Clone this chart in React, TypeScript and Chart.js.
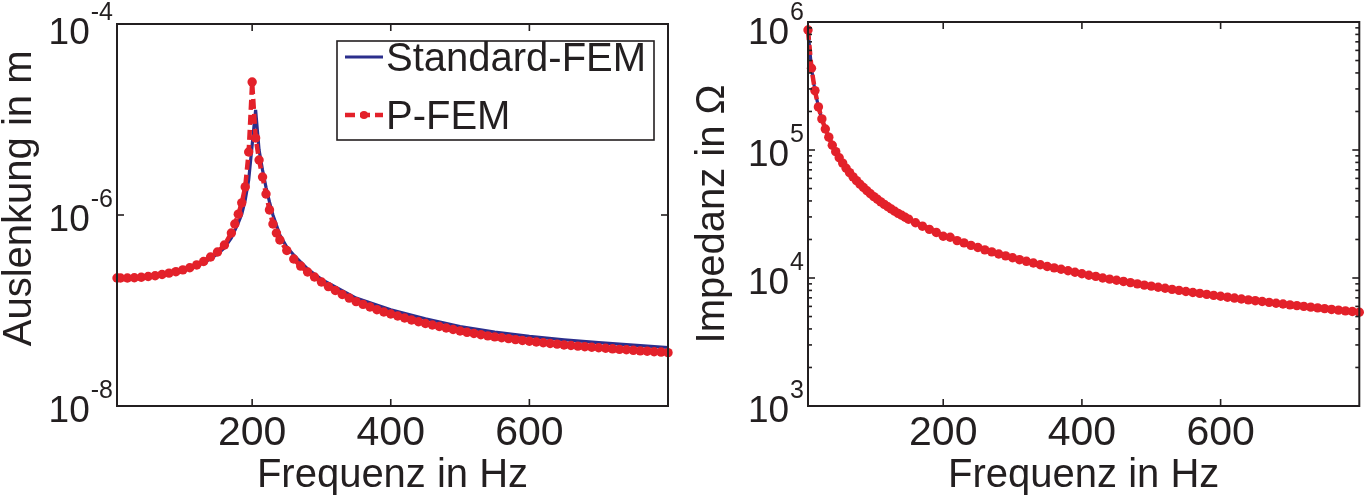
import React, { useEffect, useRef } from "react";
import { Chart, registerables } from "chart.js";

Chart.register(...registerables);

const FONT = "'Liberation Sans', Arial, Helvetica, sans-serif";
const INK = "#231f20";
const NAVY = "#2b2e8c";
const RED = "#e3212a";

// ---------- texts & ticks ----------
const seriesLabels = ["Standard-FEM", "P-FEM"];
const xTitle = "Frequenz in Hz";
const leftYTitle = "Auslenkung in m";
const rightYTitle = "Impedanz in \u03A9";
const xTickValues = [200, 400, 600];
const leftYTicks = [1e-8, 1e-6, 1e-4];
const rightYTicks = [1e3, 1e4, 1e5, 1e6];
const rightYMinorTicks = [
  2e3, 3e3, 4e3, 5e3, 6e3, 7e3, 8e3, 9e3,
  2e4, 3e4, 4e4, 5e4, 6e4, 7e4, 8e4, 9e4,
  2e5, 3e5, 4e5, 5e5, 6e5, 7e5, 8e5, 9e5,
];

// ---------- left panel: displacement (m) ----------
const pfemFreqLeft = [
  5, 10, 20, 30, 40, 50, 60, 70, 80, 90, 100, 110, 120, 130, 140, 150, 160, 170, 175, 180,
  185, 190, 195, 200, 205, 210, 215, 220, 225, 230, 235, 240, 250, 260, 270, 280, 290, 300,
  310, 320, 330, 340, 350, 360, 370, 380, 390, 400, 410, 420, 430, 440, 450, 460, 470, 480,
  490, 500, 510, 520, 530, 540, 550, 560, 570, 580, 590, 600, 610, 620, 630, 640, 650, 660,
  670, 680, 690, 700, 710, 720, 730, 740, 750, 760, 770, 780, 790, 800,
];
const pfemDispLeft = [
  2.19e-7, 2.19e-7, 2.19e-7, 2.2e-7, 2.23e-7, 2.27e-7, 2.31e-7, 2.38e-7, 2.46e-7, 2.55e-7,
  2.66e-7, 2.8e-7, 3.0e-7, 3.26e-7, 3.63e-7, 4.1e-7, 4.85e-7, 6.48e-7, 8.05e-7, 1.02e-6,
  1.34e-6, 1.97e-6, 4.57e-6, 2.47e-5, 6.4e-6, 3.77e-6, 2.5e-6, 1.66e-6, 1.13e-6, 8.05e-7,
  6.48e-7, 5.47e-7, 4.25e-7, 3.46e-7, 2.92e-7, 2.53e-7, 2.24e-7, 1.99e-7,
  1.78e-7, 1.62e-7, 1.47e-7, 1.35e-7, 1.24e-7, 1.16e-7, 1.09e-7, 1.02e-7, 9.65e-8, 9.19e-8,
  8.76e-8, 8.35e-8, 7.95e-8, 7.62e-8, 7.31e-8, 7.05e-8, 6.8e-8, 6.56e-8,
  6.32e-8, 6.1e-8, 5.91e-8, 5.74e-8, 5.58e-8, 5.43e-8, 5.3e-8, 5.18e-8, 5.07e-8, 4.96e-8,
  4.85e-8, 4.76e-8, 4.68e-8, 4.59e-8, 4.51e-8, 4.44e-8, 4.36e-8, 4.3e-8,
  4.24e-8, 4.18e-8, 4.12e-8, 4.07e-8, 4.02e-8, 3.97e-8, 3.92e-8, 3.88e-8, 3.83e-8, 3.78e-8,
  3.75e-8, 3.7e-8, 3.67e-8, 3.62e-8,
];
const stdFreqLeft = [
  5, 50, 100, 130, 150, 160, 170, 180, 185, 190, 195, 200, 205, 210, 215, 220, 225, 230,
  240, 250, 260, 280, 300, 350, 400, 450, 500, 550, 600, 650, 700, 750, 800,
];
const stdDispLeft = [
  2.19e-7, 2.27e-7, 2.61e-7, 3.14e-7, 3.9e-7, 4.51e-7, 5.74e-7, 8.25e-7, 1.02e-6, 1.44e-6,
  2.33e-6, 5.41e-6, 1.26e-5, 4.79e-6, 2.95e-6, 1.95e-6, 1.37e-6, 1.0e-6,
  6.17e-7, 4.62e-7, 3.81e-7, 2.72e-7, 2.12e-7, 1.35e-7, 1.015e-7, 8.2e-8, 6.8e-8, 5.95e-8,
  5.37e-8, 4.94e-8, 4.6e-8, 4.33e-8, 4.1e-8,
];

// ---------- right panel: impedance (Ohm) ----------
const pfemFreqRight = [
  5, 10, 15, 20, 25, 30, 35, 40, 45, 50, 55, 60, 65, 70, 75, 80, 85, 90, 95, 100, 105, 110,
  115, 120, 125, 130, 135, 140, 145, 150, 160, 170, 180, 190, 200, 210, 220, 230, 240, 250,
  260, 270, 280, 290, 300, 310, 320, 330, 340, 350, 360, 370, 380, 390, 400, 410, 420, 430,
  440, 450, 460, 470, 480, 490, 500, 510, 520, 530, 540, 550, 560, 570, 580, 590, 600, 610,
  620, 630, 640, 650, 660, 670, 680, 690, 700, 710, 720, 730, 740, 750, 760, 770, 780, 790, 800,
];
const pfemImpRight = [
  866000, 435000, 291000, 217000, 175000, 146000, 126000, 109000, 97000, 87000, 79000, 72000,
  66500, 61700, 57600, 54000, 50900, 48000, 45500, 43200, 41200, 39300,
  37600, 36000, 34600, 33200, 32000, 30900, 29800, 28800, 27000, 25400, 24000, 22700, 21200,
  20800, 19600, 18800, 18000, 17300,
  16600, 16000, 15400, 14900, 14400, 13900, 13500, 13100, 12700, 12300, 12000, 11700, 11400,
  11100, 10800, 10500, 10300, 10000,
  9800, 9600, 9400, 9200, 9000, 8800, 8640, 8470, 8310, 8150, 8000, 7850, 7710, 7580, 7450,
  7320, 7200, 7080,
  6970, 6860, 6750, 6650, 6550, 6450, 6350, 6260, 6170, 6080, 6000, 5920, 5840, 5760, 5680,
  5610, 5540, 5470, 5400,
];
const stdFreqRight = [5, 10, 15, 20, 25, 30, 40, 50, 60, 80, 100, 150, 200, 250, 300, 400, 500, 600, 700, 800];
const stdImpRight = [
  870000, 436000, 291000, 218000, 175000, 146000, 109000, 87000, 72500, 54300, 43400, 29000,
  21700, 17400, 14500, 10850, 8700, 7250, 6200, 5430,
];

const toPoints = (xs: number[], ys: number[]) => xs.map((x, i) => ({ x, y: ys[i] }));

type FrameCfg = {
  yTicks: number[];
  yMinor: number[];
  legend: boolean;
};

function makeFrame(cfg: FrameCfg) {
  return {
    id: "matlabFrame",
    afterDraw(chart: any) {
      const { ctx, chartArea: a, scales } = chart;
      const xs = scales.x;
      const ys = scales.y;
      ctx.save();
      ctx.strokeStyle = INK;
      ctx.lineWidth = 2;
      ctx.strokeRect(a.left, a.top, a.right - a.left, a.bottom - a.top);

      const seg = (x1: number, y1: number, x2: number, y2: number) => {
        ctx.beginPath();
        ctx.moveTo(x1, y1);
        ctx.lineTo(x2, y2);
        ctx.stroke();
      };
      ctx.lineWidth = 1.6;
      for (const v of xTickValues) {
        const px = xs.getPixelForValue(v);
        seg(px, a.bottom, px, a.bottom - 7);
        seg(px, a.top, px, a.top + 7);
      }
      for (const v of cfg.yTicks) {
        const py = ys.getPixelForValue(v);
        seg(a.left, py, a.left + 7, py);
        seg(a.right, py, a.right - 7, py);
      }
      for (const v of cfg.yMinor) {
        const py = ys.getPixelForValue(v);
        seg(a.left, py, a.left + 4, py);
        seg(a.right, py, a.right - 4, py);
      }

      // y tick labels: 10 with superscript exponent
      ctx.fillStyle = INK;
      ctx.textBaseline = "alphabetic";
      ctx.textAlign = "right";
      for (const v of cfg.yTicks) {
        const py = ys.getPixelForValue(v);
        const exp = String(Math.round(Math.log10(v)));
        const base = Math.max(py + 16, 44);
        const right = a.left - 4;
        ctx.font = `25px ${FONT}`;
        ctx.fillText(exp, right, base - 24);
        const w = ctx.measureText(exp).width;
        ctx.font = `37px ${FONT}`;
        ctx.fillText("10", right - w - 1, base);
      }

      if (cfg.legend) {
        const ds = chart.data.datasets;
        const bx = 337, by = 41, bw = 317, bh = 99;
        ctx.fillStyle = "#ffffff";
        ctx.fillRect(bx, by, bw, bh);
        ctx.strokeStyle = INK;
        ctx.lineWidth = 1.6;
        ctx.strokeRect(bx, by, bw, bh);
        const rows = [
          { d: ds[0], y: 57 },
          { d: ds[1], y: 115 },
        ];
        for (const r of rows) {
          ctx.save();
          ctx.strokeStyle = r.d.borderColor;
          ctx.lineWidth = r.d.borderWidth;
          ctx.setLineDash(r.d.borderDash || []);
          seg(345, r.y, 383, r.y);
          ctx.setLineDash([]);
          if (r.d.pointRadius > 0) {
            ctx.fillStyle = r.d.pointBackgroundColor;
            ctx.beginPath();
            ctx.arc(364, r.y, 4, 0, Math.PI * 2);
            ctx.fill();
          }
          ctx.restore();
          ctx.fillStyle = INK;
          ctx.textAlign = "left";
          ctx.textBaseline = "middle";
          ctx.font = `40px ${FONT}`;
          ctx.fillText(r.d.label, 386, r.y + 3);
        }
      }
      ctx.restore();
    },
  };
}

function buildConfig(side: "left" | "right"): any {
  const isLeft = side === "left";
  const std = isLeft ? toPoints(stdFreqLeft, stdDispLeft) : toPoints(stdFreqRight, stdImpRight);
  const pfem = isLeft ? toPoints(pfemFreqLeft, pfemDispLeft) : toPoints(pfemFreqRight, pfemImpRight);
  const yTicks = isLeft ? leftYTicks : rightYTicks;
  return {
    type: "line",
    data: {
      datasets: [
        {
          label: seriesLabels[0],
          data: std,
          borderColor: NAVY,
          backgroundColor: NAVY,
          borderWidth: 3.2,
          pointRadius: 0,
          tension: 0,
          order: 1,
          clip: false,
        },
        {
          label: seriesLabels[1],
          data: pfem,
          borderColor: RED,
          backgroundColor: RED,
          borderWidth: 4.5,
          borderDash: [10, 5],
          pointRadius: 4.7,
          pointBackgroundColor: RED,
          pointBorderWidth: 0,
          tension: 0,
          order: 0,
          clip: false,
        },
      ],
    },
    options: {
      responsive: false,
      animation: false,
      devicePixelRatio: 1,
      events: [],
      layout: {
        padding: isLeft
          ? { left: 0, top: 24, right: 22, bottom: 0 }
          : { left: 0, top: 22, right: 2, bottom: 0 },
      },
      plugins: { legend: { display: false }, tooltip: { enabled: false } },
      scales: {
        x: {
          type: "linear",
          min: 5,
          max: 800,
          grid: { display: false, drawTicks: false },
          border: { display: false },
          afterBuildTicks: (s: any) => {
            s.ticks = xTickValues.map((v) => ({ value: v }));
          },
          ticks: {
            font: { family: FONT, size: 41 },
            color: INK,
            padding: 3,
            maxRotation: 0,
            autoSkip: false,
            callback: (v: any) => String(v),
          },
          title: {
            display: true,
            text: xTitle,
            font: { family: FONT, size: 40, lineHeight: 1 },
            color: INK,
            padding: { top: 0, bottom: 3 },
          },
          afterFit: (s: any) => {
            s.height = 93;
          },
        },
        y: {
          type: "logarithmic",
          min: isLeft ? 1e-8 : 1e3,
          max: isLeft ? 1e-4 : 1e6,
          grid: { display: false, drawTicks: false },
          border: { display: false },
          afterBuildTicks: (s: any) => {
            s.ticks = yTicks.map((v) => ({ value: v, major: true }));
          },
          ticks: { display: false },
          title: {
            display: true,
            text: isLeft ? "   " + leftYTitle : rightYTitle,
            font: { family: FONT, size: 40, lineHeight: 1 },
            color: INK,
            padding: { top: isLeft ? 0 : 3, bottom: 0 },
          },
          afterFit: (s: any) => {
            s.width = isLeft ? 117 : 118;
          },
        },
      },
    },
    plugins: [
      makeFrame({
        yTicks,
        yMinor: isLeft ? [] : rightYMinorTicks,
        legend: isLeft,
      }),
    ],
  };
}

function Panel({ side, left, width }: { side: "left" | "right"; left: number; width: number }) {
  const ref = useRef<HTMLCanvasElement>(null);
  useEffect(() => {
    const chart = new Chart(ref.current as HTMLCanvasElement, buildConfig(side));
    return () => chart.destroy();
  }, [side]);
  return (
    <div style={{ position: "absolute", left, top: 0, width, height: 499 }}>
      <canvas ref={ref} width={width} height={499} style={{ display: "block", width, height: 499 }} />
    </div>
  );
}

export default function App() {
  return (
    <div
      style={{
        position: "absolute",
        left: 0,
        top: 0,
        width: 1364,
        height: 499,
        background: "#ffffff",
        overflow: "hidden",
      }}
    >
      <Panel side="left" left={0} width={690} />
      <Panel side="right" left={690} width={674} />
    </div>
  );
}
